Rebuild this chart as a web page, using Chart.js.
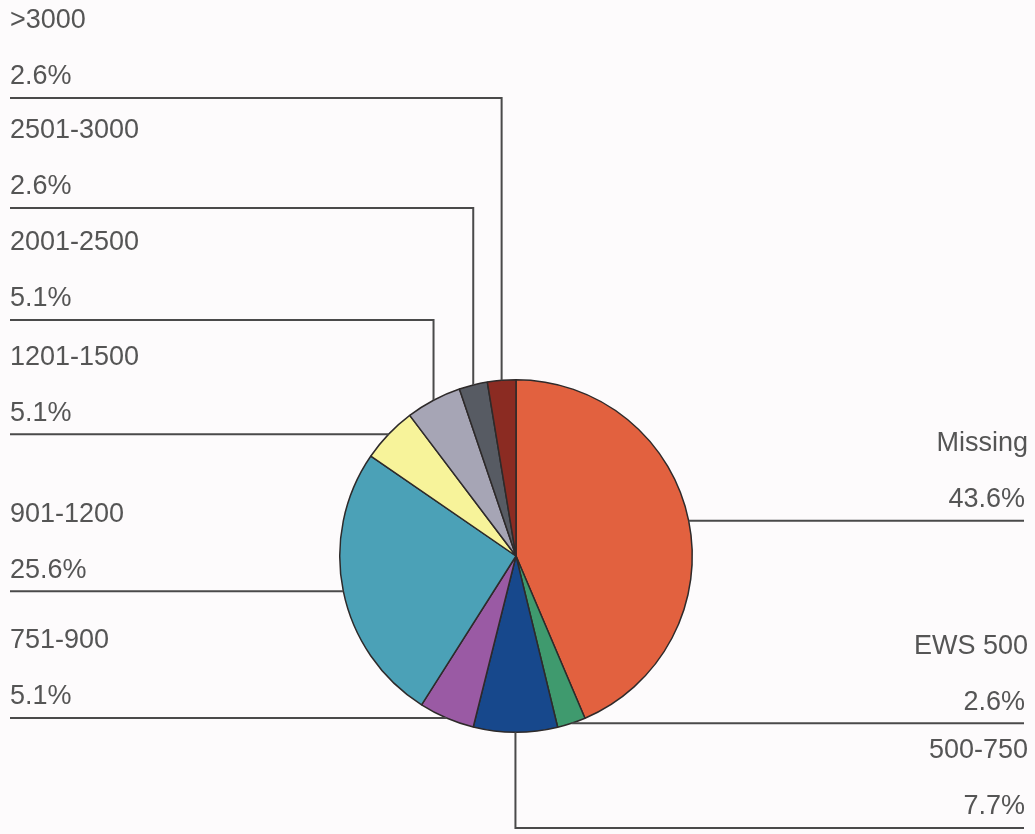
<!DOCTYPE html>
<html>
<head>
<meta charset="utf-8">
<script src="https://cdn.jsdelivr.net/npm/chart.js@4"></script>
<style>
  html, body { margin: 0; padding: 0; background: #fdfbfc; }
  canvas { display: block; }
</style>
</head>
<body>
<canvas id="chart1" width="1035" height="834"></canvas>
<script>
// income bands, clockwise from 12 o'clock
const categories = ['Missing', 'EWS 500', '500-750', '751-900', '901-1200', '1201-1500', '2001-2500', '2501-3000', '>3000'];
const shares = [43.6, 2.6, 7.7, 5.1, 25.6, 5.1, 5.1, 2.6, 2.6];
const colors = ['#e2613f', '#3f9a6e', '#17488c', '#9a5aa4', '#4ba1b7', '#f7f39a', '#a6a5b5', '#575b63', '#8b2b22'];

// how each callout leaves its slice: up/left/right/down, plus the shelf height for up/down
const callouts = [
  { dir: 'right' },
  { dir: 'right' },
  { dir: 'down', shelf: 828 },
  { dir: 'left' },
  { dir: 'left' },
  { dir: 'left' },
  { dir: 'up', shelf: 320 },
  { dir: 'up', shelf: 208 },
  { dir: 'up', shelf: 98 }
];

const LEFT_X = 10;
const RIGHT_X = 1024;
const FONT = '27px "Liberation Sans", Arial, sans-serif';

const leaderLabels = {
  id: 'leaderLabels',
  afterDatasetsDraw(chart) {
    const ctx = chart.ctx;
    const arcs = chart.getDatasetMeta(0).data;
    ctx.save();
    ctx.strokeStyle = '#4a4a4a';
    ctx.lineWidth = 2;
    ctx.fillStyle = '#555555';
    ctx.font = FONT;
    ctx.textBaseline = 'middle';

    arcs.forEach((arc, i) => {
      const p = arc.getProps(['x', 'y', 'startAngle', 'endAngle', 'outerRadius'], true);
      const mid = (p.startAngle + p.endAngle) / 2;
      const ex = p.x + p.outerRadius * Math.cos(mid);
      const ey = p.y + p.outerRadius * Math.sin(mid);
      const c = callouts[i];
      let lineY, side;

      ctx.beginPath();
      if (c.dir === 'up') {
        lineY = c.shelf; side = 'left';
        ctx.moveTo(ex, ey);
        ctx.lineTo(ex, lineY);
        ctx.lineTo(LEFT_X, lineY);
      } else if (c.dir === 'down') {
        lineY = c.shelf; side = 'right';
        ctx.moveTo(ex, ey);
        ctx.lineTo(ex, lineY);
        ctx.lineTo(RIGHT_X, lineY);
      } else if (c.dir === 'left') {
        lineY = ey; side = 'left';
        ctx.moveTo(ex, ey);
        ctx.lineTo(LEFT_X, ey);
      } else {
        lineY = ey; side = 'right';
        ctx.moveTo(ex, ey);
        ctx.lineTo(RIGHT_X, ey);
      }
      ctx.stroke();

      const pct = shares[i].toFixed(1) + '%';
      if (side === 'left') {
        ctx.textAlign = 'left';
        ctx.fillText(categories[i], LEFT_X, lineY - 77);
        ctx.fillText(pct, LEFT_X, lineY - 21);
      } else {
        ctx.textAlign = 'right';
        ctx.fillText(categories[i], RIGHT_X + 4, lineY - 77);
        ctx.fillText(pct, RIGHT_X + 1, lineY - 21);
      }
    });
    ctx.restore();
  }
};

new Chart(document.getElementById('chart1').getContext('2d'), {
  type: 'pie',
  data: {
    labels: categories,
    datasets: [{
      data: shares,
      backgroundColor: colors,
      borderColor: '#2e2a2a',
      borderWidth: 1.5
    }]
  },
  options: {
    animation: false,
    responsive: false,
    layout: {
      padding: { left: 339, right: 342, top: 379, bottom: 101 }
    },
    plugins: {
      legend: { display: false },
      tooltip: { enabled: false }
    }
  },
  plugins: [leaderLabels]
});
</script>
</body>
</html>
